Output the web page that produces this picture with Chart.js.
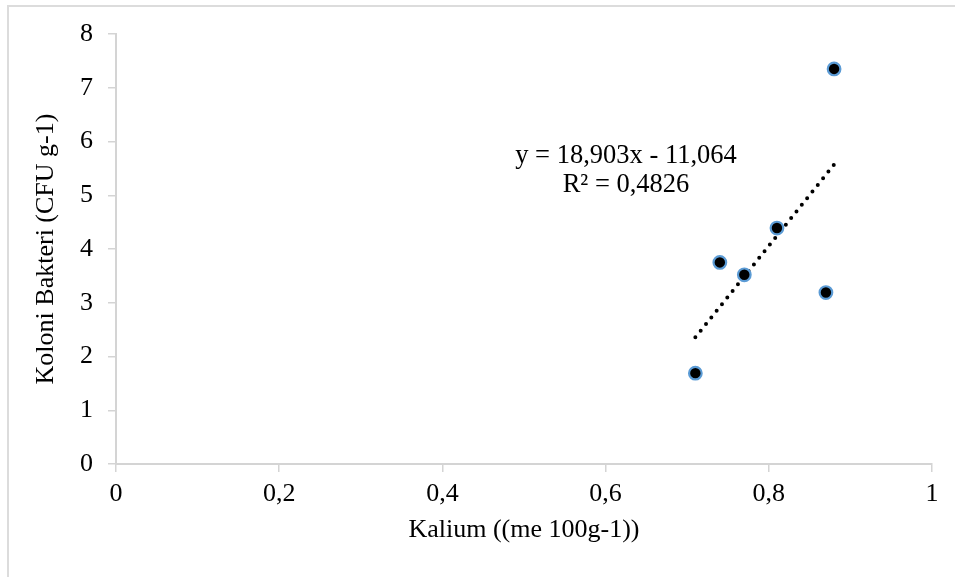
<!DOCTYPE html>
<html>
<head>
<meta charset="utf-8">
<script src="https://cdn.jsdelivr.net/npm/chart.js@4.4.1/dist/chart.umd.min.js"></script>
<style>
  html, body { margin: 0; padding: 0; background: #fff; }
  #wrap { position: relative; width: 955px; height: 577px; overflow: hidden; }
  #frame {
    position: absolute; left: 7px; top: 5px; width: 1000px; height: 1000px;
    border-left: 2px solid #dcdcdc; border-top: 2px solid #dcdcdc;
  }
  #kaliumChart { position: absolute; left: 0; top: 0; }
</style>
</head>
<body>
<div id="wrap">
  <div id="frame"></div>
  <canvas id="kaliumChart" width="955" height="577"></canvas>
</div>
<script>
// Kalium vs koloni bakteri
const kalium = [0.71, 0.74, 0.77, 0.81, 0.87, 0.88];
const koloni = [1.69, 3.75, 3.52, 4.39, 3.19, 7.35];

// linear trend as printed on the chart
const slope = 18.903;
const intercept = -11.064;
const trendLabels = ["y = 18,903x - 11,064", "R² = 0,4826"];

const xTickLabels = ["0", "0,2", "0,4", "0,6", "0,8", "1"];
const yTickLabels = ["0", "1", "2", "3", "4", "5", "6", "7", "8"];

const points = kalium.map((x, i) => ({ x: x, y: koloni[i] }));
const xMin = Math.min(...kalium);
const xMax = Math.max(...kalium);
const trend = [xMin, xMax].map(x => ({ x: x, y: slope * x + intercept }));

const serif = "'Liberation Serif', 'Times New Roman', serif";
const axisColor = "#d4d4d4";
const fontSize = 26;

// equation text, anchored in data space
const equationLabel = {
  id: "equationLabel",
  afterDatasetsDraw(chart) {
    const { ctx, scales } = chart;
    const cx = scales.x.getPixelForValue(0.625);
    const cy = scales.y.getPixelForValue(5.73);
    ctx.save();
    ctx.font = "26.5px " + serif;
    ctx.fillStyle = "#000";
    ctx.textAlign = "center";
    ctx.textBaseline = "middle";
    trendLabels.forEach((t, i) => ctx.fillText(t, cx, cy + i * 29));
    ctx.restore();
  }
};

new Chart(document.getElementById("kaliumChart").getContext("2d"), {
  type: "scatter",
  data: {
    datasets: [
      {
        label: "Koloni",
        data: points,
        backgroundColor: "#000",
        borderColor: "#5b9bd5",
        borderWidth: 2.2,
        pointRadius: 6.3,
        order: 1
      },
      {
        type: "line",
        label: "Linear",
        data: trend,
        borderColor: "#000",
        borderWidth: 4,
        borderDash: [0, 8.5],
        borderCapStyle: "round",
        pointRadius: 0,
        fill: false,
        order: 2
      }
    ]
  },
  options: {
    responsive: false,
    animation: false,
    layout: { padding: { top: 34, right: 23, left: 0, bottom: 0 } },
    plugins: {
      legend: { display: false },
      tooltip: { enabled: false }
    },
    scales: {
      x: {
        type: "linear",
        min: 0,
        max: 1,
        afterFit: s => { s.height = 113; },
        grid: { drawOnChartArea: false, drawTicks: true, tickLength: 8, color: axisColor, lineWidth: 1.5 },
        border: { color: axisColor, width: 2 },
        ticks: {
          stepSize: 0.2,
          padding: 7,
          color: "#000",
          font: { family: serif, size: fontSize },
          callback: (v, i) => xTickLabels[i]
        },
        title: {
          display: true,
          text: "Kalium ((me 100g-1))",
          color: "#000",
          font: { family: serif, size: fontSize },
          padding: { top: 0, bottom: 31 }
        }
      },
      y: {
        min: 0,
        max: 8,
        afterFit: s => { s.width = 116; },
        grid: { drawOnChartArea: false, drawTicks: true, tickLength: 8, color: axisColor, lineWidth: 1.5 },
        border: { color: axisColor, width: 2 },
        ticks: {
          stepSize: 1,
          padding: 15,
          color: "#000",
          font: { family: serif, size: fontSize },
          callback: (v, i) => yTickLabels[i]
        },
        title: {
          display: true,
          text: "Koloni Bakteri (CFU g-1)",
          color: "#000",
          font: { family: serif, size: fontSize },
          padding: { top: 31, bottom: 0 }
        }
      }
    }
  },
  plugins: [equationLabel]
});
</script>
</body>
</html>
